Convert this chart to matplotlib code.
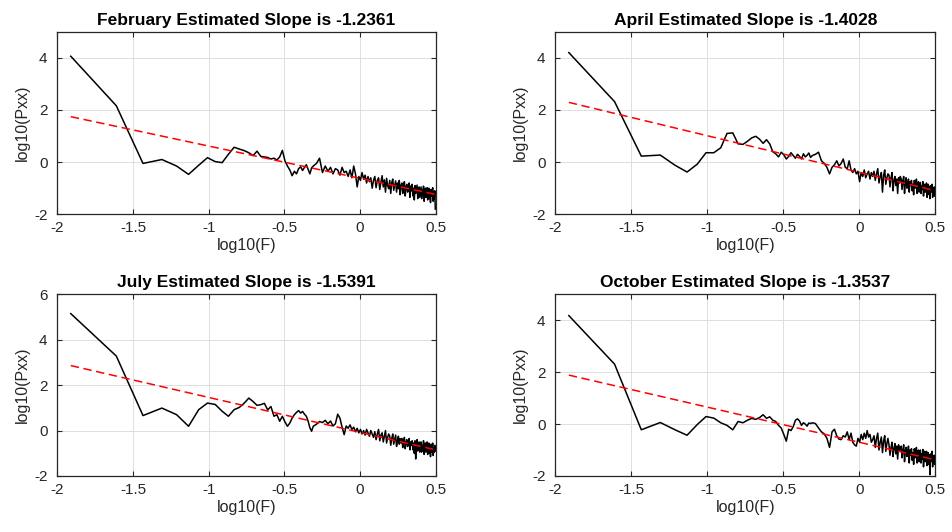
import matplotlib

matplotlib.use("Agg")
import matplotlib.pyplot as plt
import numpy as np
from matplotlib.ticker import FormatStrFormatter


plt.rcParams.update(
    {
        "font.family": ["Liberation Sans", "DejaVu Sans"],
        "font.size": 11,
        "axes.unicode_minus": False,
        "axes.linewidth": 0.9,
        "axes.edgecolor": "#262626",
        "xtick.color": "#262626",
        "ytick.color": "#262626",
        "axes.labelcolor": "#262626",
    }
)

INK = "#262626"
GRID = "#dedede"

MONTHS = ["February", "April", "July", "October"]
SLOPES = [-1.2361, -1.4028, -1.5391, -1.3537]
INTERCEPTS = [-0.62, -0.39, -0.08, -0.70]
Y_LIMITS = [(-2, 5), (-2, 5), (-2, 6), (-2, 5)]
X_TICKS = [-2, -1.5, -1, -0.5, 0, 0.5]

# periodogram bins kept (all low bins, every other one higher up), nfft = 512
NFFT = 512
BINS = np.concatenate([np.arange(1, 41), np.arange(42, 101, 2), np.arange(102, 257, 2)])

# log10(Pxx), one value per bin above
FEB = [
    4.06, 2.16, -0.05, 0.10, -0.15, -0.47, -0.12, 0.17, 0.02, -0.02,
    0.30, 0.57, 0.50, 0.44, 0.36, 0.25, 0.42, 0.22, 0.20, 0.18,
    0.12, 0.15, 0.08, 0.20, 0.45, 0.05, -0.15, -0.30, -0.52, -0.35,
    -0.45, -0.25, -0.18, -0.32, -0.20, -0.10, -0.28, -0.45, -0.22, -0.15,
    # bins 42..100
    -0.05, 0.15, -0.40, -0.15, -0.35, -0.20, -0.45, -0.25, -0.30, -0.50,
    -0.20, -0.40, -0.35, -0.55, -0.30, -0.60, -0.15, -0.45, -0.95, -0.55,
    -0.70, -0.40, -0.65, -0.50, -0.80, -0.55, -0.75, -0.60, -1.00, -0.70,
    # bins 102..256
    -0.55, -0.98, -0.70, -0.60, -1.05, -0.75, -0.52, -0.95, -0.68, -1.15, -0.62, -0.90, -1.02,
    -0.70, -1.20, -0.78, -0.65, -1.08, -0.90, -0.72, -1.15, -0.80, -1.02, -0.70, -1.25, -0.88,
    -0.80, -1.20, -0.90, -0.75, -1.30, -0.95, -0.85, -1.15, -1.00, -0.80, -1.35, -0.92, -1.10,
    -0.85, -1.30, -1.00, -1.45, -0.90, -1.20, -1.05, -0.88, -1.40, -1.10, -0.95, -1.35, -1.15,
    -0.95, -1.40, -1.05, -1.25, -0.92, -1.50, -1.10, -1.00, -1.35, -1.20, -0.98, -1.45, -1.15,
    -1.00, -1.40, -1.10, -1.55, -1.05, -1.30, -1.20, -0.98, -1.50, -1.15, -1.40, -1.10, -1.80,
]

APR = [
    4.20, 2.32, 0.23, 0.27, -0.12, -0.38, -0.08, 0.36, 0.36, 0.55,
    1.10, 1.12, 0.70, 0.68, 0.80, 0.93, 0.99, 0.88, 0.72, 0.86,
    0.70, 0.40, 0.32, 0.20, 0.38, 0.28, 0.12, 0.22, 0.36, 0.25,
    0.15, 0.30, 0.22, 0.12, 0.32, 0.20, 0.26, 0.35, 0.18, 0.25,
    0.30, 0.38, 0.05, -0.05, -0.20, -0.45, -0.20, -0.10, 0.05, -0.15,
    -0.05, 0.12, -0.20, -0.25, 0.05, -0.30, -0.40, -0.25, -0.45, -0.35,
    -0.75, -0.40, -0.55, -0.30, -0.60, -0.45, -0.35, -0.65, -0.40, -0.55,
    -0.35, -0.70, -0.45, -0.25, -0.80, -0.55, -0.40, -1.15, -0.50, -0.30, -0.85, -0.60, -0.45,
    -0.50, -0.95, -0.60, -0.40, -1.10, -0.70, -0.55, -0.90, -0.65, -1.20, -0.60, -0.80, -0.55,
    -0.65, -1.05, -0.70, -0.55, -1.20, -0.80, -0.60, -1.00, -0.85, -0.65, -1.15, -0.75, -0.90,
    -0.70, -1.10, -0.85, -1.25, -0.70, -1.00, -0.90, -0.65, -1.20, -0.95, -0.75, -1.15, -0.90,
    -0.78, -1.20, -0.92, -1.05, -0.75, -1.30, -0.95, -0.85, -1.15, -1.00, -0.80, -1.35, -0.98,
    -0.85, -1.25, -0.95, -1.40, -0.90, -1.15, -1.05, -0.85, -1.35, -1.00, -1.25, -0.95, -1.30,
]

JUL = [
    5.15, 3.28, 0.66, 0.99, 0.70, 0.19, 0.92, 1.21, 1.15, 0.85,
    0.63, 0.92, 1.02, 1.21, 1.43, 1.28, 1.11, 1.14, 1.20, 0.91,
    1.06, 0.63, 0.70, 0.41, 0.63, 0.38, 0.19, 0.33, 0.55, 0.70,
    0.80, 0.88, 0.77, 0.84, 0.72, 0.63, 0.41, 0.12, -0.03, 0.19,
    0.28, 0.40, 0.35, 0.45, 0.30, 0.42, 0.20, 0.30, 0.72, 0.55,
    0.15, -0.18, 0.20, 0.10, 0.25, 0.05, 0.15, -0.05, 0.10, -0.10,
    0.05, -0.15, 0.00, -0.20, 0.05, -0.10, -0.25, 0.00, -0.15, -0.30,
    -0.05, -0.40, -0.15, 0.05, -0.45, -0.20, -0.10, -0.50, -0.25, 0.00, -0.55, -0.30, -0.15,
    -0.25, -0.65, -0.35, -0.15, -0.60, -0.40, -0.20, -0.70, -0.45, -0.25, -0.60, -0.35, -0.55,
    -0.35, -0.75, -0.50, -0.30, -0.80, -0.55, -0.40, -0.70, -0.60, -0.35, -0.85, -0.50, -0.65,
    -0.45, -0.85, -0.55, -1.00, -0.45, -1.25, -0.60, -0.40, -0.90, -0.65, -0.50, -0.95, -0.70,
    -0.50, -0.95, -0.65, -0.85, -0.45, -1.05, -0.70, -0.55, -0.95, -0.75, -0.50, -1.05, -0.72,
    -0.55, -1.00, -0.70, -1.15, -0.60, -0.95, -0.80, -0.55, -1.10, -0.75, -0.95, -0.65, -0.90,
]

OCT = [
    4.18, 2.31, -0.22, 0.06, -0.22, -0.43, -0.02, 0.29, 0.23, 0.05,
    -0.05, -0.22, 0.10, 0.05, 0.15, 0.22, 0.18, 0.25, 0.36, 0.22,
    0.28, 0.15, 0.10, -0.05, -0.15, -0.40, -0.66, -0.20, -0.25, -0.10,
    0.15, 0.20, 0.12, -0.05, 0.05, 0.00, -0.08, 0.04, 0.02, 0.05,
    0.02, -0.15, -0.30, -0.38, -0.55, -0.90, -0.30, -0.20, -0.45, -0.58,
    -0.60, -0.45, -0.50, -0.30, -0.60, -0.35, -0.70, -0.80, -0.85, -0.55,
    -0.70, -0.40, -0.60, -0.35, -0.55, -0.25, -0.50, -0.40, -0.70, -0.60,
    -0.45, -0.90, -0.55, -0.35, -1.00, -0.70, -0.50, -1.10, -0.65, -0.45, -1.05, -0.75, -0.55,
    -0.80, -1.20, -0.90, -0.70, -1.25, -0.95, -0.75, -1.15, -0.85, -1.35, -0.80, -1.05, -0.90,
    -0.85, -1.30, -1.00, -0.80, -1.45, -1.05, -0.90, -1.25, -1.10, -0.85, -1.50, -1.00, -1.20,
    -0.95, -1.40, -1.10, -1.55, -0.95, -1.30, -1.15, -0.90, -1.50, -1.20, -1.00, -1.45, -1.20,
    -1.00, -1.50, -1.15, -1.35, -0.98, -1.65, -1.20, -1.05, -1.45, -1.30, -1.05, -1.60, -1.25,
    -1.10, -1.55, -1.20, -1.95, -1.15, -1.45, -1.30, -1.05, -1.65, -1.25, -1.50, -1.20, -1.55,
]

SPECTRA = [FEB, APR, JUL, OCT]

# axes rectangles in figure fractions: left, bottom, width, height
LAYOUT = [
    [0.0602, 0.5972, 0.3975, 0.3432],
    [0.5833, 0.5972, 0.3990, 0.3432],
    [0.0602, 0.1053, 0.3975, 0.3415],
    [0.5833, 0.1053, 0.3990, 0.3415],
]


def draw_panel(ax, month, log_pxx, slope, intercept, ylim):
    log_f = np.log10(2 * np.pi * BINS / NFFT)
    ax.plot(log_f, log_pxx, color="black", linewidth=1.1, zorder=3)
    fit = np.polyval([slope, intercept], log_f)
    ax.plot(log_f, fit, color="#ff0000", linewidth=1.1, linestyle=(0, (5.5, 3)), zorder=4)

    ax.set_xlim(-2, 0.5)
    ax.set_ylim(*ylim)
    ax.set_xticks(X_TICKS)
    ax.set_yticks(np.arange(ylim[0], ylim[1] + 0.1, 2))
    ax.xaxis.set_major_formatter(FormatStrFormatter("%g"))
    ax.yaxis.set_major_formatter(FormatStrFormatter("%g"))
    ax.tick_params(direction="in", top=True, right=True, length=3.5, width=0.8)
    ax.tick_params(axis="x", pad=5)
    ax.tick_params(axis="y", pad=7)
    ax.grid(True, color=GRID, linewidth=0.7)
    ax.set_axisbelow(True)

    ax.set_xlabel("log10(F)", fontsize=11.5, labelpad=2)
    ax.set_ylabel("log10(Pxx)", fontsize=11.5, labelpad=3)
    ax.set_title(f"{month} Estimated Slope is {slope:.4f}", fontweight="bold", fontsize=12.5, pad=5, color="black")


def main():
    for spectrum in SPECTRA:
        assert len(spectrum) == len(BINS), len(spectrum)

    fig = plt.figure(figsize=(9.52, 5.32), dpi=100)
    for rect, month, spectrum, slope, intercept, ylim in zip(LAYOUT, MONTHS, SPECTRA, SLOPES, INTERCEPTS, Y_LIMITS):
        ax = fig.add_axes(rect)
        draw_panel(ax, month, spectrum, slope, intercept, ylim)

    fig.savefig("out.png", dpi=100, facecolor="white")
    plt.close(fig)


if __name__ == "__main__":
    main()
